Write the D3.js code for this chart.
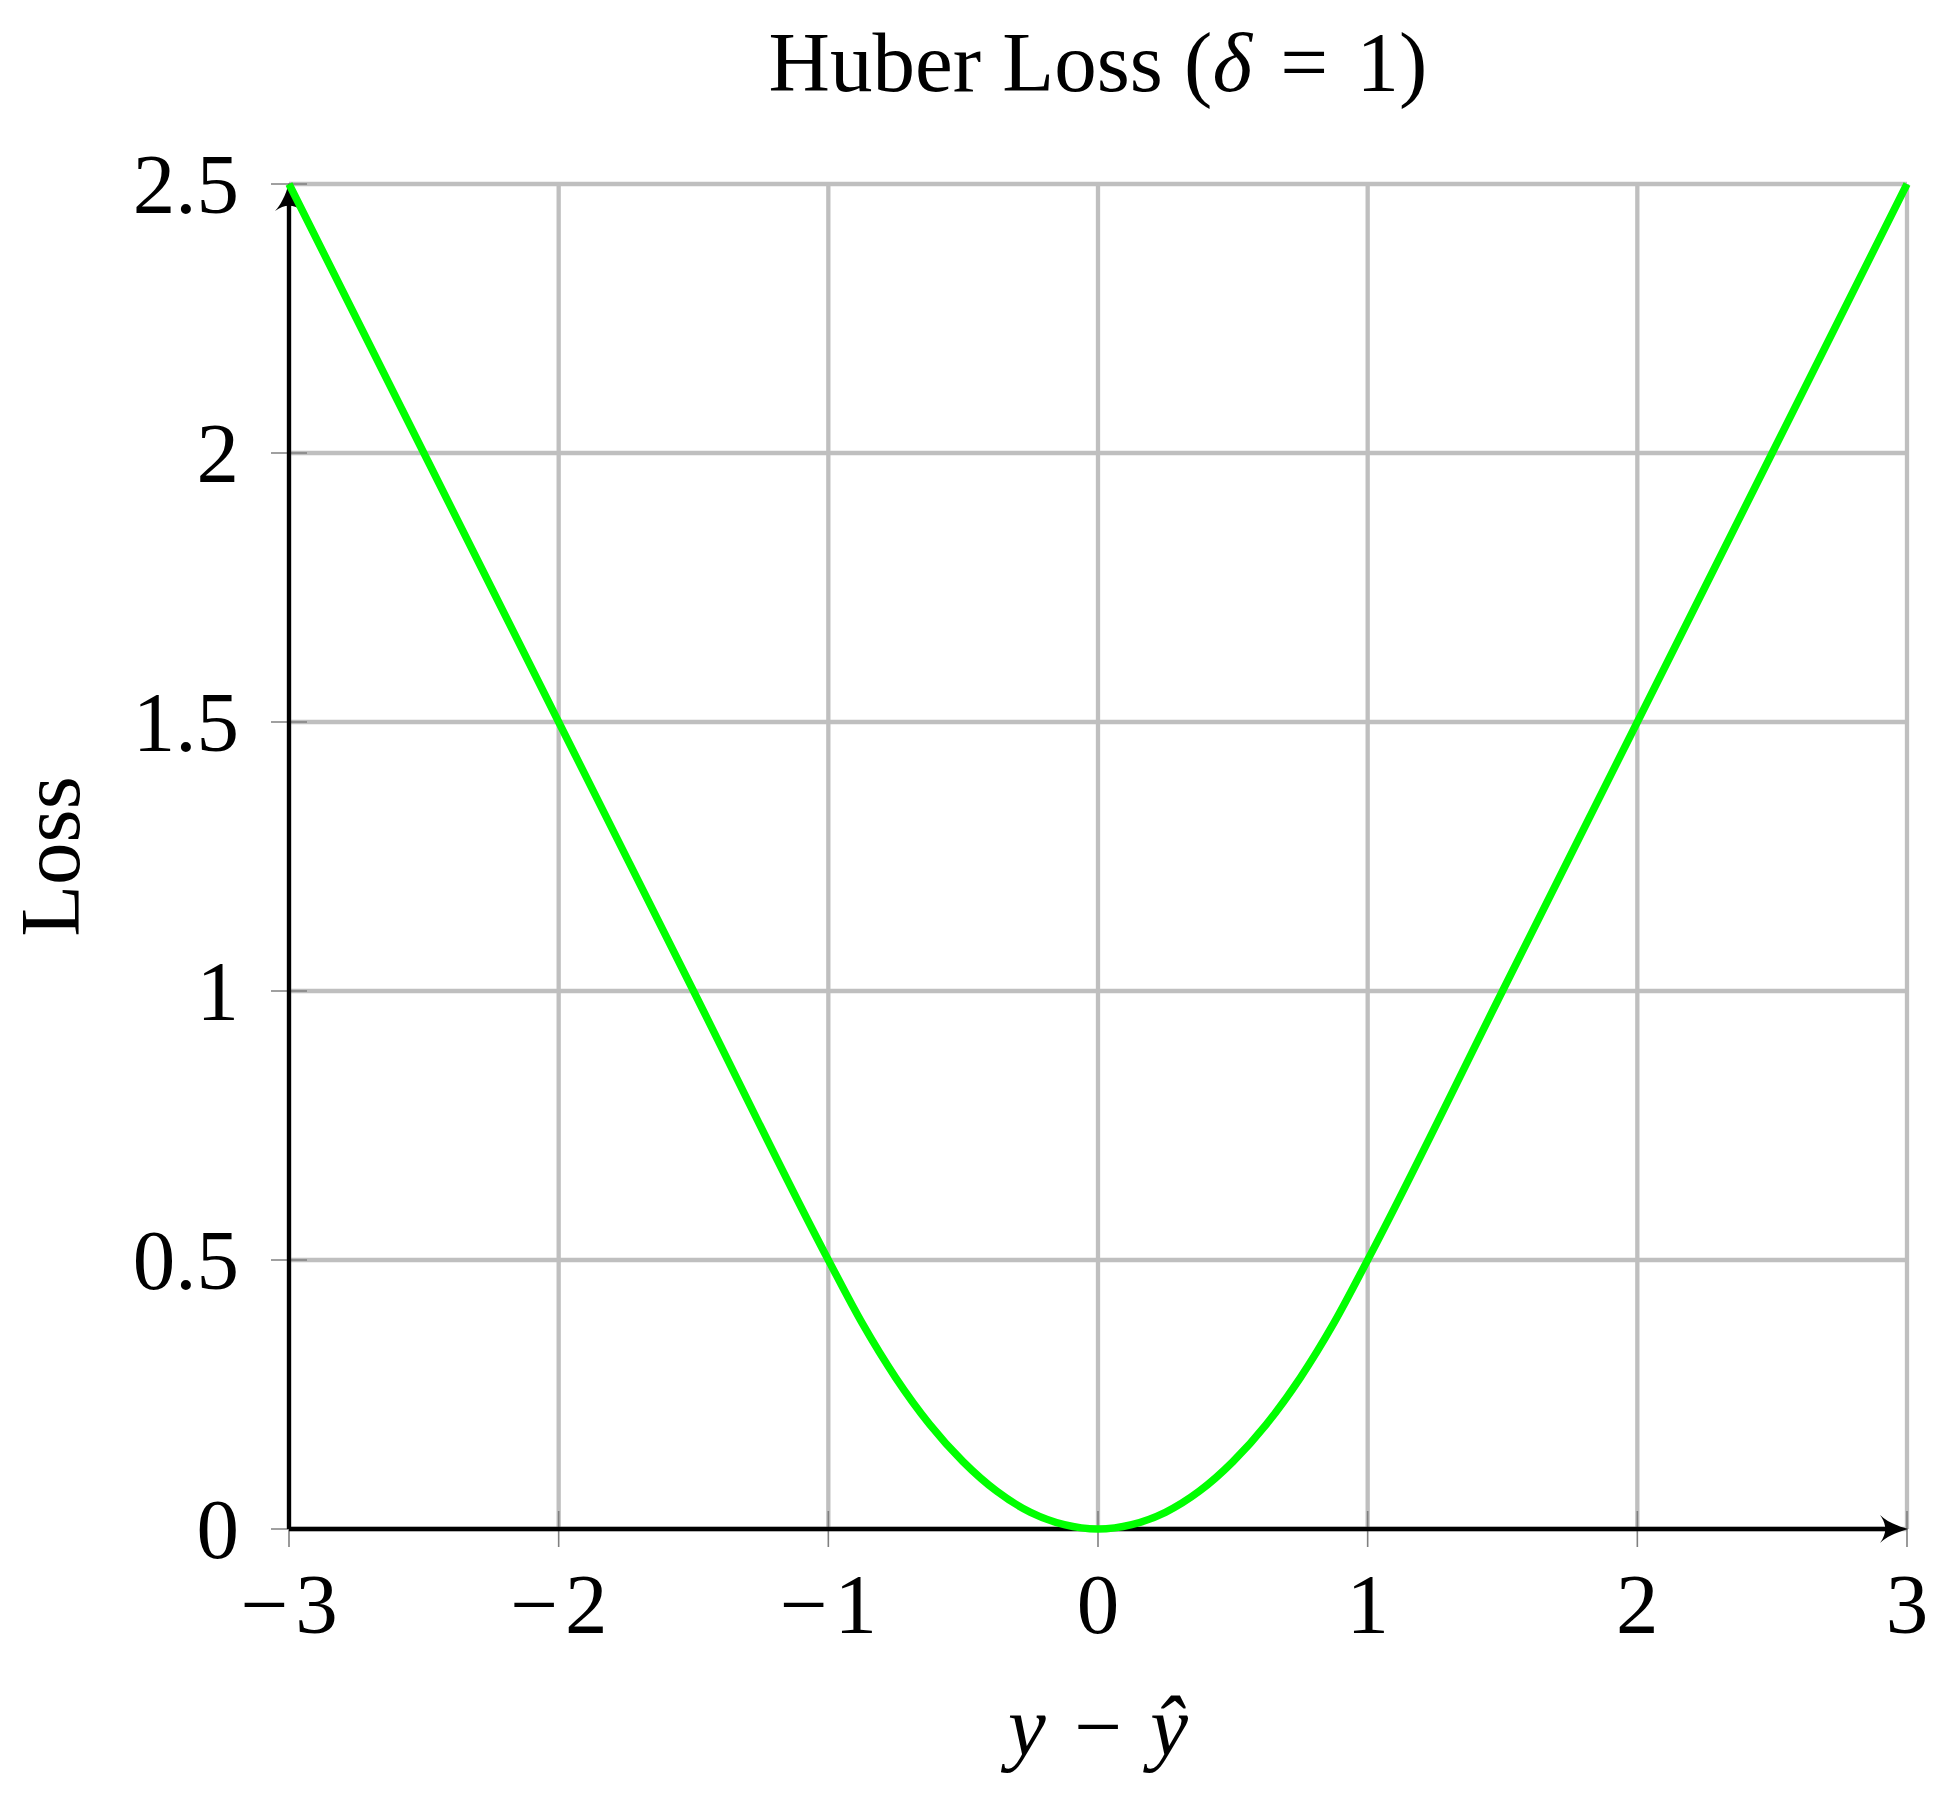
<!DOCTYPE html>
<html>
<head>
<meta charset="utf-8">
<script src="https://cdn.jsdelivr.net/npm/d3@7"></script>
<style>
  html, body { margin: 0; padding: 0; background: #fff; }
  svg text { font-family: "Liberation Serif", "DejaVu Serif", serif; fill: #000; }
</style>
</head>
<body>
<svg width="1946" height="1811"></svg>
<script>
// values
const xTicks = [-3, -2, -1, 0, 1, 2, 3];
const yTicks = [0, 0.5, 1, 1.5, 2, 2.5];
const yTickLabels = ["0", "0.5", "1", "1.5", "2", "2.5"];

// Huber loss curve, delta = 1
const errX = [-3, -2.5, -2, -1.5, -1, -0.875, -0.75, -0.625, -0.5, -0.375, -0.25, -0.125, 0,
              0.125, 0.25, 0.375, 0.5, 0.625, 0.75, 0.875, 1, 1.5, 2, 2.5, 3];
const lossY = [2.5, 2, 1.5, 1, 0.5, 0.383, 0.281, 0.195, 0.125, 0.07, 0.031, 0.008, 0,
               0.008, 0.031, 0.07, 0.125, 0.195, 0.281, 0.383, 0.5, 1, 1.5, 2, 2.5];

(function () {
  let svg = d3.select("svg");
  let pLeft = 289, pRight = 1907, pTop = 184, pBottom = 1529;

  let x = d3.scaleLinear().domain([-3, 3]).range([pLeft, pRight]);
  let y = d3.scaleLinear().domain([0, 2.5]).range([pBottom, pTop]);

  let fontSize = 85;

  // grid
  let grid = svg.append("g").attr("stroke", "#bfbfbf").attr("stroke-width", 4.3);
  grid.selectAll(".gx")
    .data(xTicks)
    .enter()
    .append("line")
    .attr("x1", d => x(d)).attr("x2", d => x(d))
    .attr("y1", pTop).attr("y2", pBottom);
  grid.selectAll(".gy")
    .data(yTicks)
    .enter()
    .append("line")
    .attr("x1", pLeft).attr("x2", pRight)
    .attr("y1", d => y(d)).attr("y2", d => y(d));

  // tick marks (gray, both sides of the axis)
  let ticks = svg.append("g").attr("stroke", "#808080").attr("stroke-width", 1.6);
  ticks.selectAll(".tx")
    .data(xTicks)
    .enter()
    .append("line")
    .attr("x1", d => x(d)).attr("x2", d => x(d))
    .attr("y1", pBottom - 18).attr("y2", pBottom + 18);
  ticks.selectAll(".ty")
    .data(yTicks)
    .enter()
    .append("line")
    .attr("x1", pLeft - 18).attr("x2", pLeft + 18)
    .attr("y1", d => y(d)).attr("y2", d => y(d));

  // axes with arrows
  svg.append("line")
    .attr("x1", pLeft).attr("x2", pRight - 8)
    .attr("y1", pBottom).attr("y2", pBottom)
    .attr("stroke", "#000").attr("stroke-width", 4.3);
  svg.append("line")
    .attr("x1", pLeft).attr("x2", pLeft)
    .attr("y1", pBottom).attr("y2", pTop + 8)
    .attr("stroke", "#000").attr("stroke-width", 4.3);

  // latex style arrow heads, tip at origin pointing right
  function arrowPath(len, hw) {
    return `M0,0 C${-len * 0.45},${-hw * 0.25} ${-len * 0.8},${-hw * 0.6} ${-len},${-hw}
            C${-len * 0.75},${-hw * 0.3} ${-len * 0.75},${hw * 0.3} ${-len},${hw}
            C${-len * 0.8},${hw * 0.6} ${-len * 0.45},${hw * 0.25} 0,0 Z`;
  }
  svg.append("path")
    .attr("d", arrowPath(28, 14))
    .attr("transform", `translate(${pRight + 1},${pBottom})`)
    .attr("fill", "#000");
  svg.append("path")
    .attr("d", arrowPath(28, 14))
    .attr("transform", `translate(${pLeft},${pTop - 1}) rotate(-90)`)
    .attr("fill", "#000");

  // tick labels
  svg.append("g")
    .selectAll("text")
    .data(xTicks)
    .enter()
    .append("text")
    .attr("x", d => x(d))
    .attr("y", pBottom + 104)
    .attr("text-anchor", "middle")
    .style("font-size", fontSize + "px")
    .text(d => d < 0 ? "\u2212\u200a" + Math.abs(d) : String(d));

  svg.append("g")
    .selectAll("text")
    .data(yTicks)
    .enter()
    .append("text")
    .attr("x", pLeft - 50)
    .attr("y", d => y(d) + 29)
    .attr("text-anchor", "end")
    .style("font-size", fontSize + "px")
    .text((d, i) => yTickLabels[i]);

  // title
  let title = svg.append("text")
    .attr("x", (pLeft + pRight) / 2)
    .attr("y", 91)
    .attr("text-anchor", "middle")
    .style("font-size", fontSize + "px");
  title.append("tspan").text("Huber Loss (");
  title.append("tspan").style("font-style", "italic").text("\u03b4");
  title.append("tspan").text("\u2004=\u20041)");

  // axis labels
  let xl = svg.append("text")
    .attr("x", (pLeft + pRight) / 2)
    .attr("y", 1755)
    .attr("text-anchor", "middle")
    .style("font-size", fontSize + "px");
  xl.append("tspan").style("font-style", "italic").text("y");
  xl.append("tspan").text("\u2004\u2212\u2004");
  xl.append("tspan").style("font-style", "italic").text("\u0177");

  svg.append("text")
    .attr("transform", `translate(79,${(pTop + pBottom) / 2}) rotate(-90)`)
    .attr("text-anchor", "middle")
    .style("font-size", fontSize + "px")
    .text("Loss");

  // curve
  let line = d3.line()
    .x((d, i) => x(errX[i]))
    .y((d, i) => y(lossY[i]))
    .curve(d3.curveMonotoneX);

  svg.append("path")
    .datum(lossY)
    .attr("d", line)
    .attr("fill", "none")
    .attr("stroke", "#00ff00")
    .attr("stroke-width", 7.5)
    .attr("stroke-linejoin", "round");
})();
</script>
</body>
</html>
